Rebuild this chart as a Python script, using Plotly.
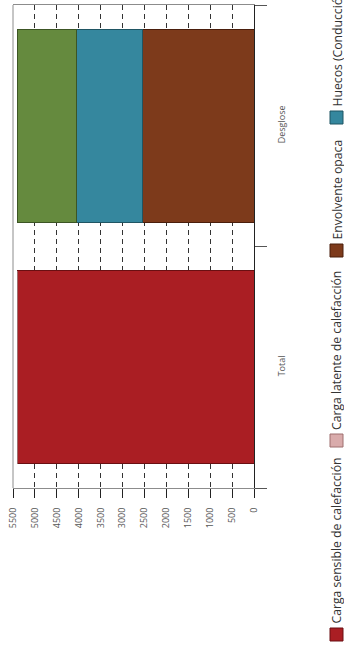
import plotly.graph_objects as go

# ---------------- data ----------------
categories = ["Total", "Desglose"]
series_names = [
    "Carga sensible de calefacción",
    "Carga latente de calefacción",
    "Envolvente opaca",
    "Huecos (Conducción)",
    "Ventilación e infiltración",
]
carga_sensible = [5400, None]
carga_latente = [0, None]
envolvente_opaca = [None, 2555]
huecos_conduccion = [None, 1485]
ventilacion = [None, 1360]
value_ticks = [0, 500, 1000, 1500, 2000, 2500, 3000, 3500, 4000, 4500, 5000, 5500]

series_values = [carga_sensible, carga_latente, envolvente_opaca, huecos_conduccion, ventilacion]
fill_colors = ["#AA1E23", "#D9ABAB", "#7D3A1B", "#35879E", "#658A3E"]
edge_colors = ["#6A0F12", "#9E6E6E", "#4A1E0C", "#1F5563", "#3C5524"]

# ---------------- geometry (pixels) ----------------
W, H = 344, 645
PL, PR, PT, PB = 13, 254, 5, 488


def px2x(px):
    return (px - PL) / (PR - PL)


def px2y(py):
    return (PB - py) / (PB - PT)


fig = go.Figure()
for name, vals, fc, ec in zip(series_names, series_values, fill_colors, edge_colors):
    fig.add_trace(go.Bar(
        y=categories, x=vals, name=name, orientation="h",
        marker=dict(color=fc, line=dict(color=ec, width=1)),
    ))

fig.update_layout(
    width=W, height=H,
    margin=dict(l=PL, r=W - PR, t=PT, b=H - PB, pad=0),
    plot_bgcolor="white", paper_bgcolor="white",
    showlegend=False, barmode="stack", bargap=0.2,
    font=dict(family="Open Sans", color="#444"),
)

fig.update_xaxes(
    range=[5500, 0], tickvals=value_ticks, ticktext=[str(v) for v in value_ticks],
    tickangle=-90, ticks="outside", ticklen=9, tickwidth=1, tickcolor="#222",
    tickfont=dict(size=9, color="#555"), ticklabelstandoff=6,
    showgrid=True, gridcolor="#333", gridwidth=1, griddash="5px,4px",
    showline=True, linecolor="#8C8C8C", linewidth=1, mirror=True,
    zeroline=True, zerolinecolor="#222", zerolinewidth=1,
)
fig.update_yaxes(
    type="category", side="right", tickangle=-90,
    ticks="outside", tickson="boundaries", ticklen=12, tickwidth=1, tickcolor="#555",
    tickfont=dict(size=9, color="#555"), ticklabelstandoff=19,
    showgrid=False, showline=True, linecolor="#222", linewidth=1, mirror=False,
    zeroline=False,
)

# left gray frame line
fig.add_shape(type="line", xref="paper", yref="paper",
              x0=0, x1=0, y0=0, y1=1,
              line=dict(color="#8C8C8C", width=1))

# ---------------- legend (rotated, drawn by hand) ----------------
SQ = 13
legend_square_bottoms = [641, 447, 257, 124, -29]
for name, fc, ec, sb in zip(series_names, fill_colors, edge_colors, legend_square_bottoms):
    fig.add_shape(type="rect", xref="paper", yref="paper",
                  x0=px2x(330), x1=px2x(330 + SQ), y0=px2y(sb), y1=px2y(sb - SQ),
                  fillcolor=fc, line=dict(color=ec, width=1))
    fig.add_annotation(text=name, textangle=-90, xref="paper", yref="paper",
                       x=px2x(336.5), y=px2y(sb - SQ - 2), xanchor="center", yanchor="bottom",
                       showarrow=False, font=dict(size=12.2, color="#333"))

fig.write_html("out.html", config={"displayModeBar": False},
               post_script="document.body.style.margin='0';document.body.style.overflow='hidden';")
